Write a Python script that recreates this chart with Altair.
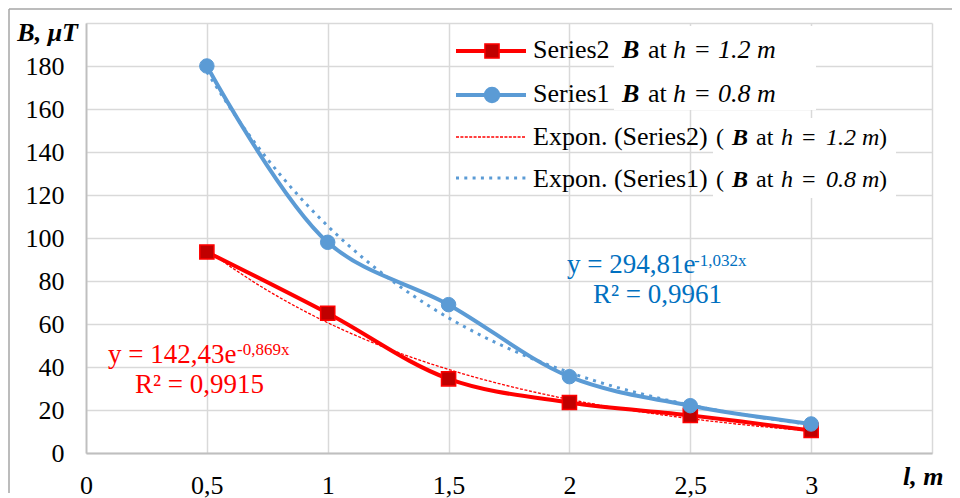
import altair as alt
import pandas as pd

# ---------------- data ----------------
l_values = [0.5, 1.0, 1.5, 2.0, 2.5, 3.0]
b_h08 = [180, 98, 69, 35.5, 22, 13.5]        # Series1: B at h = 0.8 m
b_h12 = [93.5, 65, 34.5, 23.5, 17.5, 10.5]   # Series2: B at h = 1.2 m

x_ticks = [0, 0.5, 1, 1.5, 2, 2.5, 3, 3.5]
y_ticks = [0, 20, 40, 60, 80, 100, 120, 140, 160, 180, 200]

eq_red = ["y = 142,43e", "-0,869x", "R² = 0,9915"]
eq_blue = ["y = 294,81e", "-1,032x", "R² = 0,9961"]

# ---------------- style ----------------
FONT = "Liberation Serif"
RED = "#ff0000"
DARKRED = "#c00000"
BLUE = "#5b9bd5"
EQBLUE = "#0070c0"
FS = 26

df1 = pd.DataFrame({"l": l_values, "B": b_h08})
df2 = pd.DataFrame({"l": l_values, "B": b_h12})
dummy = pd.DataFrame({"d": [0]})

xs = alt.Scale(domain=[0, 3.5], nice=False, zero=False)
ys = alt.Scale(domain=[0, 200], nice=False)

x_axis = alt.Axis(
    values=x_ticks, title=None, ticks=False, tickSize=0,
    labelExpr="datum.value > 3.2 ? '' : replace(format(datum.value, '~g'), '.', ',')",
    labelFont=FONT, labelFontSize=FS, labelColor="black", labelPadding=19,
    labelFlush=False, labelOverlap=False,
    grid=True, gridColor="#d9d9d9", gridWidth=1.5,
    domainColor="#bfbfbf", domainWidth=1.8,
)
y_axis = alt.Axis(
    values=y_ticks, title=None, ticks=False, tickSize=0,
    labelExpr="datum.value > 190 ? '' : datum.label",
    labelFont=FONT, labelFontSize=FS, labelColor="black", labelPadding=22,
    labelOverlap=False, format="d",
    grid=True, gridColor="#d9d9d9", gridWidth=1.5,
    domainColor="#bfbfbf", domainWidth=1.8,
)
X = alt.X("l:Q", scale=xs, axis=x_axis)
Y = alt.Y("B:Q", scale=ys, axis=y_axis)


def txt(s, x, y, color="black", size=FS, style="normal", weight="normal",
        align="left", baseline="alphabetic"):
    return alt.Chart(dummy).mark_text(
        text=s, font=FONT, fontSize=size, fontStyle=style, fontWeight=weight,
        color=color, align=align, baseline=baseline
    ).encode(x=alt.value(x), y=alt.value(y))


def hrule(x1, x2, y, color, width, dash=None, cap="butt"):
    kw = dict(color=color, strokeWidth=width, strokeCap=cap)
    if dash:
        kw["strokeDash"] = dash
    return alt.Chart(dummy).mark_rule(**kw).encode(
        x=alt.value(x1), x2=alt.value(x2), y=alt.value(y))


def box(x1, x2, y1, y2):
    return alt.Chart(dummy).mark_rect(fill="white", stroke=None).encode(
        x=alt.value(x1), x2=alt.value(x2), y=alt.value(y1), y2=alt.value(y2))


layers = []

# outer frame (top and left edges visible)
layers.append(hrule(-77, 900, -14, "#a6a6a6", 1.5))
layers.append(alt.Chart(dummy).mark_rule(color="#a6a6a6", strokeWidth=1.5).encode(
    x=alt.value(-77), y=alt.value(-14), y2=alt.value(470)))

# trendlines (exponential fits computed by Vega)
trend_red = alt.Chart(df2).transform_regression(
    "l", "B", method="exp", extent=[0.5, 3]
).mark_line(color=RED, strokeWidth=1.3, strokeDash=[3, 1.6]).encode(x=X, y=Y)
trend_blue = alt.Chart(df1).transform_regression(
    "l", "B", method="exp", extent=[0.5, 3]
).mark_line(color=BLUE, strokeWidth=3, strokeDash=[3, 5.3]).encode(x=X, y=Y)

line_red = alt.Chart(df2).mark_line(
    color=RED, strokeWidth=4, interpolate="catmull-rom").encode(x=X, y=Y)
pts_red = alt.Chart(df2).mark_point(
    shape="square", filled=True, size=200, fill=DARKRED, stroke=RED,
    strokeWidth=1.5, opacity=1).encode(x=X, y=Y)
line_blue = alt.Chart(df1).mark_line(
    color=BLUE, strokeWidth=4, interpolate="catmull-rom").encode(x=X, y=Y)
pts_blue = alt.Chart(df1).mark_point(
    shape="circle", filled=True, size=210, fill=BLUE, stroke=BLUE,
    strokeWidth=1, opacity=1).encode(x=X, y=Y)

layers += [line_red, trend_red, pts_red, line_blue, trend_blue, pts_blue]

# axis titles
layers.append(txt("B, μT", -8, 10, style="italic", weight="bold",
                  align="right", baseline="middle"))
layers.append(txt("l, m", 817, 462, style="italic", weight="bold"))

# equations
EQS = 27
layers.append(txt(eq_red[0], 22, 340, color=RED, size=EQS))
layers.append(txt(eq_red[1], 151, 332, color=RED, size=17))
layers.append(txt(eq_red[2], 49, 370, color=RED, size=EQS))
layers.append(txt(eq_blue[0], 481, 250, color=EQBLUE, size=EQS))
layers.append(txt(eq_blue[1], 608, 243, color=EQBLUE, size=17))
layers.append(txt(eq_blue[2], 507, 280, color=EQBLUE, size=EQS))

# legend
layers.append(box(528, 730, 3, 87))
layers.append(box(627, 810, 95, 175))

row_base = [35, 79, 122, 164]
row_sym = [28, 72, 114, 155]

layers.append(hrule(370, 440, row_sym[0], RED, 4))
layers.append(alt.Chart(dummy).mark_point(
    shape="square", filled=True, size=200, fill=DARKRED, stroke=RED,
    strokeWidth=1.5, opacity=1).encode(x=alt.value(406), y=alt.value(row_sym[0])))
layers.append(hrule(370, 440, row_sym[1], BLUE, 4))
layers.append(alt.Chart(dummy).mark_point(
    shape="circle", filled=True, size=210, fill=BLUE, stroke=BLUE,
    opacity=1).encode(x=alt.value(406), y=alt.value(row_sym[1])))
layers.append(hrule(370, 440, row_sym[2], RED, 1.3, dash=[3, 1.4]))
layers.append(hrule(370, 440, row_sym[3], BLUE, 3, dash=[3, 5.3]))

legend_names = ["Series2", "Series1", "Expon. (Series2)", "Expon. (Series1)"]
legend_h = ["1.2 m", "0.8 m", "1.2 m", "0.8 m"]
for i in range(4):
    yb = row_base[i]
    layers.append(txt(legend_names[i], 447, yb))
    if i < 2:
        fs = FS
        xB, xat, xh, xeq, xv = 536, 562, 587, 609, 632
    else:
        fs = 24
        layers.append(txt("(", 630, yb, size=fs))
        xB, xat, xh, xeq, xv = 646, 670, 695, 716, 740
        layers.append(txt(")", 793, yb, size=fs))
    layers.append(txt("B", xB, yb, style="italic", weight="bold", size=fs))
    layers.append(txt("at", xat, yb, size=fs))
    layers.append(txt("h", xh, yb, style="italic", size=fs))
    layers.append(txt("=", xeq, yb, size=fs))
    layers.append(txt(legend_h[i], xv, yb, style="italic", size=fs))

chart = alt.layer(*layers).properties(
    width=846, height=430,
    padding={"left": 78, "top": 15, "right": 20, "bottom": 45},
    autosize=alt.AutoSizeParams(type="none"),
    background="white",
).configure_view(stroke=None)

chart.save("out.html", embed_options={"renderer": "svg", "actions": False})
